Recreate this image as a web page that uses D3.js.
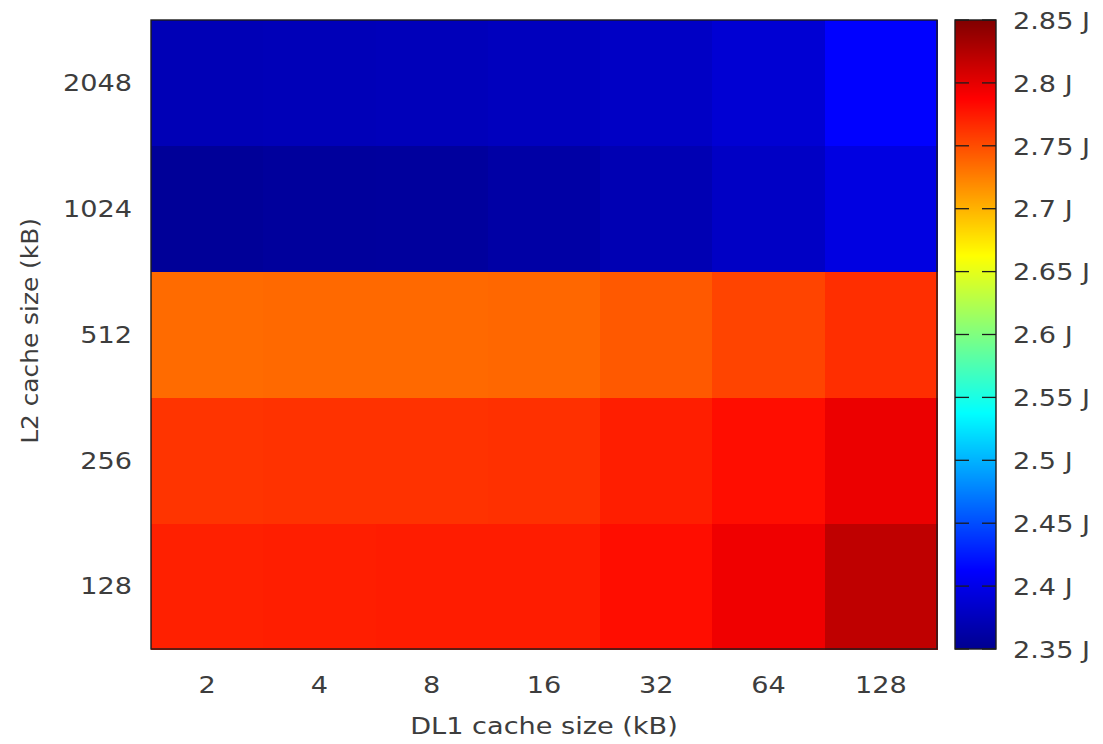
<!DOCTYPE html>
<html>
<head>
<meta charset="utf-8">
<script src="https://cdn.jsdelivr.net/npm/d3@7"></script>
<style>
  body { margin: 0; background: #fff; }
  text { font-family: "DejaVu Sans", sans-serif; fill: #3d3d3d; }
</style>
</head>
<body>
<svg id="chart" width="1103" height="744"></svg>
<script>
// DL1 sizes along x, L2 sizes along y (kB)
const dl1Sizes = ["2", "4", "8", "16", "32", "64", "128"];
const l2Sizes = ["128", "256", "512", "1024", "2048"];

// energy (J) per L2 size, one value per DL1 size
const energyL2_128  = [2.772, 2.773, 2.774, 2.774, 2.781, 2.795, 2.819];
const energyL2_256  = [2.762, 2.763, 2.763, 2.764, 2.773, 2.781, 2.797];
const energyL2_512  = [2.735, 2.736, 2.736, 2.737, 2.744, 2.754, 2.765];
const energyL2_1024 = [2.355, 2.357, 2.358, 2.362, 2.370, 2.380, 2.396];
const energyL2_2048 = [2.372, 2.373, 2.374, 2.376, 2.380, 2.388, 2.413];

const colorTicks = [2.35, 2.4, 2.45, 2.5, 2.55, 2.6, 2.65, 2.7, 2.75, 2.8, 2.85];
// jet palette: stop position (0..1) and colour
const paletteStops = [0, 0.125, 0.375, 0.625, 0.875, 1];
const paletteColors = ["#00008f", "#0000ff", "#00ffff", "#ffff00", "#ff0000", "#800000"];

const rows = [energyL2_128, energyL2_256, energyL2_512, energyL2_1024, energyL2_2048];
const cells = [];
l2Sizes.forEach((l2, i) => dl1Sizes.forEach((dl1, j) => cells.push({ l2, dl1, v: rows[i][j] })));

const svg = d3.select("#chart");
const stretch = 1.18;   // horizontal glyph stretch
const fontSize = 23;

const plot = { left: 151, right: 937, top: 20, bottom: 649 };
const bar = { left: 955, right: 996, top: 20, bottom: 649 };

const x = d3.scaleBand().domain(dl1Sizes).range([plot.left, plot.right]).padding(0);
const y = d3.scaleBand().domain(l2Sizes).range([plot.bottom, plot.top]).padding(0);

const vmin = 2.35, vmax = 2.85;
const color = d3.scaleLinear()
  .domain(paletteStops.map(p => vmin + (vmax - vmin) * p))
  .range(paletteColors)
  .clamp(true);

// heatmap cells
svg.append("g").attr("shape-rendering", "crispEdges")
  .selectAll("rect").data(cells).join("rect")
  .attr("x", d => x(d.dl1))
  .attr("y", d => y(d.l2))
  .attr("width", x.bandwidth() + 0.5)
  .attr("height", y.bandwidth() + 0.5)
  .attr("fill", d => color(d.v));

svg.append("rect")
  .attr("x", plot.left).attr("y", plot.top)
  .attr("width", plot.right - plot.left).attr("height", plot.bottom - plot.top)
  .attr("fill", "none").attr("stroke", "#1c1c1c").attr("stroke-width", 1.4);

// x axis
const gx = svg.append("g").attr("transform", `translate(0,${plot.bottom})`)
  .call(d3.axisBottom(x).tickSize(0));
gx.select(".domain").remove();
gx.selectAll("text")
  .attr("y", 44).attr("dy", 0)
  .attr("transform", `scale(${stretch},1)`)
  .style("font-size", fontSize + "px").style("fill", "#3d3d3d");

// y axis
const gy = svg.append("g").attr("transform", `translate(${plot.left},0)`)
  .call(d3.axisLeft(y).tickSize(0));
gy.select(".domain").remove();
gy.selectAll("text")
  .attr("x", -19 / stretch).attr("dy", "0.36em")
  .attr("transform", `scale(${stretch},1)`)
  .style("font-size", fontSize + "px").style("fill", "#3d3d3d");

// axis titles
svg.append("text")
  .attr("transform", `translate(${(plot.left + plot.right) / 2},734) scale(${stretch},1)`)
  .attr("text-anchor", "middle").style("font-size", fontSize + "px")
  .text("DL1 cache size (kB)");
svg.append("text")
  .attr("transform", `translate(38,331) rotate(-90) scale(1.08,1)`)
  .attr("text-anchor", "middle").style("font-size", fontSize + "px")
  .text("L2 cache size (kB)");

// color bar
const c = d3.scaleLinear().domain([vmin, vmax]).range([bar.bottom, bar.top]);
const stripes = d3.range(bar.top, bar.bottom);
svg.append("g").attr("shape-rendering", "crispEdges")
  .selectAll("rect").data(stripes).join("rect")
  .attr("x", bar.left).attr("y", d => d)
  .attr("width", bar.right - bar.left).attr("height", 1.2)
  .attr("fill", d => color(c.invert(d + 0.5)));

const tickLen = 14;
const gt = svg.append("g");
gt.selectAll("line.l").data(colorTicks).join("line").attr("class", "l")
  .attr("x1", bar.left).attr("x2", bar.left + tickLen)
  .attr("y1", d => c(d)).attr("y2", d => c(d))
  .attr("stroke", "#1c1c1c").attr("stroke-width", 1.3);
gt.selectAll("line.r").data(colorTicks).join("line").attr("class", "r")
  .attr("x1", bar.right - tickLen).attr("x2", bar.right)
  .attr("y1", d => c(d)).attr("y2", d => c(d))
  .attr("stroke", "#1c1c1c").attr("stroke-width", 1.3);

svg.append("rect")
  .attr("x", bar.left).attr("y", bar.top)
  .attr("width", bar.right - bar.left).attr("height", bar.bottom - bar.top)
  .attr("fill", "none").attr("stroke", "#1c1c1c").attr("stroke-width", 1.4);

const gc = svg.append("g").attr("transform", `translate(${bar.right},0)`)
  .call(d3.axisRight(c).tickValues(colorTicks).tickSize(0)
    .tickFormat(d => d3.format(".2~f")(d) + " J"));
gc.select(".domain").remove();
gc.selectAll("text")
  .attr("x", 17 / stretch).attr("dy", "0.36em")
  .attr("transform", `scale(${stretch},1)`)
  .style("font-size", fontSize + "px").style("fill", "#3d3d3d");
</script>
</body>
</html>
